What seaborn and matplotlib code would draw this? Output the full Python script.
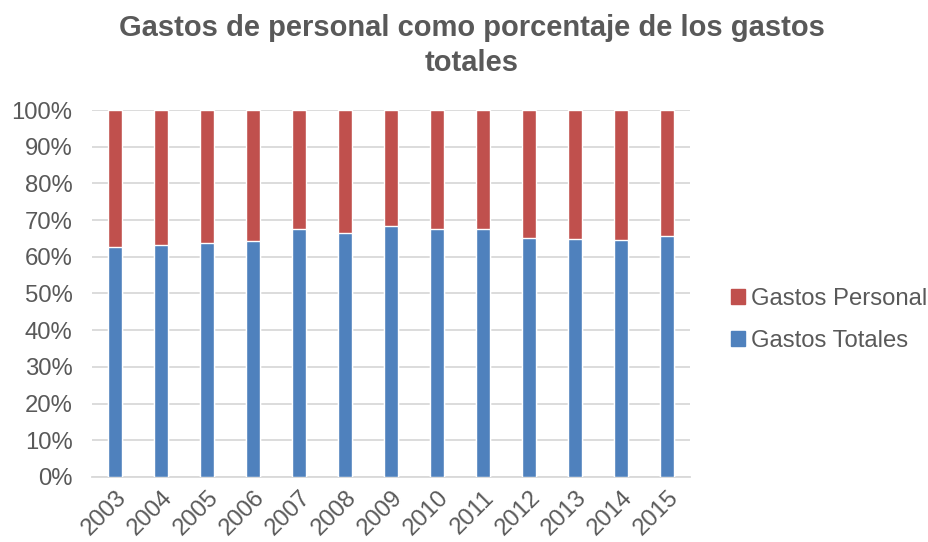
import matplotlib
matplotlib.use("Agg")
import matplotlib.pyplot as plt
from matplotlib.patches import Patch
from matplotlib.ticker import PercentFormatter
import pandas as pd
import seaborn as sns

years = ["2003", "2004", "2005", "2006", "2007", "2008", "2009",
         "2010", "2011", "2012", "2013", "2014", "2015"]
gastos_totales = [62.6, 63.2, 63.7, 64.3, 67.5, 66.4, 68.5,
                  67.5, 67.6, 65.1, 64.8, 64.5, 65.7]
gastos_personal = [37.4, 36.8, 36.3, 35.7, 32.5, 33.6, 31.5,
                   32.5, 32.4, 34.9, 35.2, 35.5, 34.3]

blue = "#4F81BD"
red = "#C0504D"
text_gray = "#595959"
grid_gray = "#D9D9D9"

df = pd.DataFrame({"year": years, "totales": gastos_totales, "personal": gastos_personal})
df["stack"] = df["totales"] + df["personal"]

sns.set_style("white")
plt.rcParams["font.family"] = ["Liberation Sans", "DejaVu Sans"]

fig = plt.figure(figsize=(9.29, 5.42), dpi=100)
ax = fig.add_axes([0.099, 0.12, 0.644, 0.677])

# stacked: full bar in red, then blue part on top of it
sns.barplot(data=df, x="year", y="stack", color=red, width=0.31,
            saturation=1, ax=ax, zorder=3)
sns.barplot(data=df, x="year", y="totales", color=blue, width=0.31,
            saturation=1, ax=ax, zorder=4)

ax.set_ylim(0, 100)
ax.set_xlim(-0.5, len(years) - 0.5)
ax.set_yticks(range(0, 101, 10))
ax.yaxis.set_major_formatter(PercentFormatter(decimals=0))
ax.grid(axis="y", color=grid_gray, linewidth=1.3, zorder=0)
ax.set_axisbelow(True)
for side in ["top", "right", "left"]:
    ax.spines[side].set_visible(False)
ax.spines["bottom"].set_color(grid_gray)
ax.spines["bottom"].set_linewidth(1.3)
ax.set_xlabel("")
ax.set_ylabel("")
ax.tick_params(axis="both", length=0, labelsize=17.2, labelcolor=text_gray)
ax.tick_params(axis="y", pad=14)
ax.tick_params(axis="x", pad=7)
for lab in ax.get_xticklabels():
    lab.set_rotation(45)
    lab.set_ha("right")
    lab.set_rotation_mode("anchor")

fig.suptitle("Gastos de personal como porcentaje de los gastos\ntotales",
             x=0.508, y=0.975, fontsize=21, fontweight="bold",
             color=text_gray, linespacing=1.33)

handles = [Patch(color=red, label="Gastos Personal"),
           Patch(color=blue, label="Gastos Totales")]
leg = fig.legend(handles=handles, loc="center left", bbox_to_anchor=(0.787, 0.41),
                 frameon=False, fontsize=17.2, handlelength=0.6, handleheight=0.6,
                 handletextpad=0.25, labelspacing=0.85, borderaxespad=0, borderpad=0)
for t in leg.get_texts():
    t.set_color(text_gray)

fig.savefig("out.png", dpi=100)
